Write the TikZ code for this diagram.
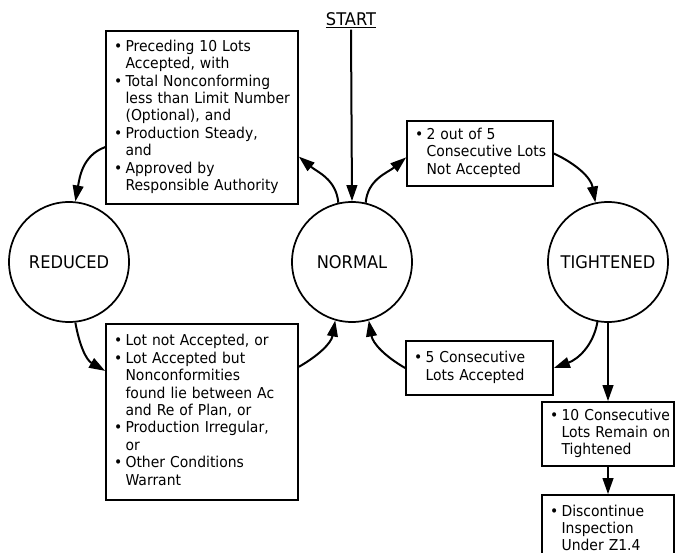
\documentclass[tikz,border=0pt]{standalone}
\usepackage{fontspec}
\setmainfont{DejaVu Sans}[FakeStretch=0.93]
\usepackage{tikz}
\usetikzlibrary{arrows.meta}
\newcommand{\boxfont}{\fontsize{11.25pt}{13.1pt}\selectfont}
\newcommand{\statefont}{\fontsize{13.1pt}{15pt}\selectfont}
\newenvironment{bullets}{\noindent\begin{tabular}{@{}l@{\hspace{2.5pt}}l@{}}}{\end{tabular}}

\begin{document}
\begin{tikzpicture}[x=0.75pt,y=0.75pt,yscale=-1,xscale=1,
    state/.style={draw, circle, line width=1.3pt, minimum size=90pt, inner sep=0pt, font=\statefont},
    rule/.style={draw, rectangle, line width=1.3pt, align=left, inner xsep=6pt, inner ysep=0pt, font=\boxfont},
    flow/.style={line width=1.5pt, -{Triangle[length=12pt,width=8pt]}}]
    \useasboundingbox (0,0) rectangle (675,553);

    %Shape: Circle
    \node [state] (reduced) at (69,262) {REDUCED};
    %Shape: Circle
    \node [state] (normal) at (352,262) {NORMAL};
    %Shape: Circle
    \node [state] (tightened) at (608,262) {TIGHTENED};

    % Text Node
    \node [inner sep=1pt, font=\statefont] (start) at (351,20) {\underline{START}};

    %Shape: Rectangle
    \node [rule, text width=132pt, minimum height=129.75pt] (n2r) at (202,117.5) {\begin{bullets}
        \textbullet & Preceding 10 Lots\\
        & Accepted, with\\
        \textbullet & Total Nonconforming\\
        & less than Limit Number\\
        & (Optional), and\\
        \textbullet & Production Steady,\\
        & and\\
        \textbullet & Approved by\\
        & Responsible Authority
      \end{bullets}};
    %Shape: Rectangle
    \node [rule, text width=97.5pt, minimum height=48.75pt] (n2t) at (480,153.5) {\begin{bullets}
        \textbullet & 2 out of 5\\
        & Consecutive Lots\\
        & Not Accepted
      \end{bullets}};
    %Shape: Rectangle
    \node [rule, text width=132pt, minimum height=132pt] (r2n) at (202,412) {\begin{bullets}
        \textbullet & Lot not Accepted, or\\
        \textbullet & Lot Accepted but\\
        & Nonconformities\\
        & found lie between Ac\\
        & and Re of Plan, or\\
        \textbullet & Production Irregular,\\
        & or\\
        \textbullet & Other Conditions\\
        & Warrant
      \end{bullets}};
    %Shape: Rectangle
    \node [rule, text width=98.25pt, minimum height=40.5pt] (t2n) at (479.5,368) {\begin{bullets}
        \textbullet & 5 Consecutive\\
        & Lots Accepted
      \end{bullets}};
    %Shape: Rectangle
    \node [rule, text width=87pt, minimum height=48pt] (remain) at (608,434) {\begin{bullets}
        \textbullet & 10 Consecutive\\
        & Lots Remain on\\
        & Tightened
      \end{bullets}};
    %Shape: Rectangle
    \node [rule, text width=87pt, minimum height=52.5pt] (stop) at (608,530) {\begin{bullets}
        \textbullet & Discontinue\\
        & Inspection\\
        & Under Z1.4
      \end{bullets}};

    %Straight Lines
    \draw [flow] (start.south) -- (normal.north);
    \draw [flow] (tightened.south) -- (remain.north);
    \draw [flow] (remain.south) -- (stop.north);

    %Curve Lines
    \draw [flow] (normal.103) to[out=-95,in=40] (n2r.-22);
    \draw [flow] (n2r.197) to[out=160,in=-80] (reduced.84);
    \draw [flow] (reduced.-84) to[out=80,in=-150] (r2n.157);
    \draw [flow] (r2n.25) to[out=-30,in=100] (normal.-106);
    \draw [flow] (t2n.west) to[out=-150,in=80] (normal.-74);
    \draw [flow] (normal.77) to[out=-85,in=140] (n2t.183);
    \draw [flow] (n2t.east) to[out=25,in=-100] (tightened.102);
    \draw [flow] (tightened.-100) to[out=100,in=-20] (t2n.east);

\end{tikzpicture}
\end{document}
